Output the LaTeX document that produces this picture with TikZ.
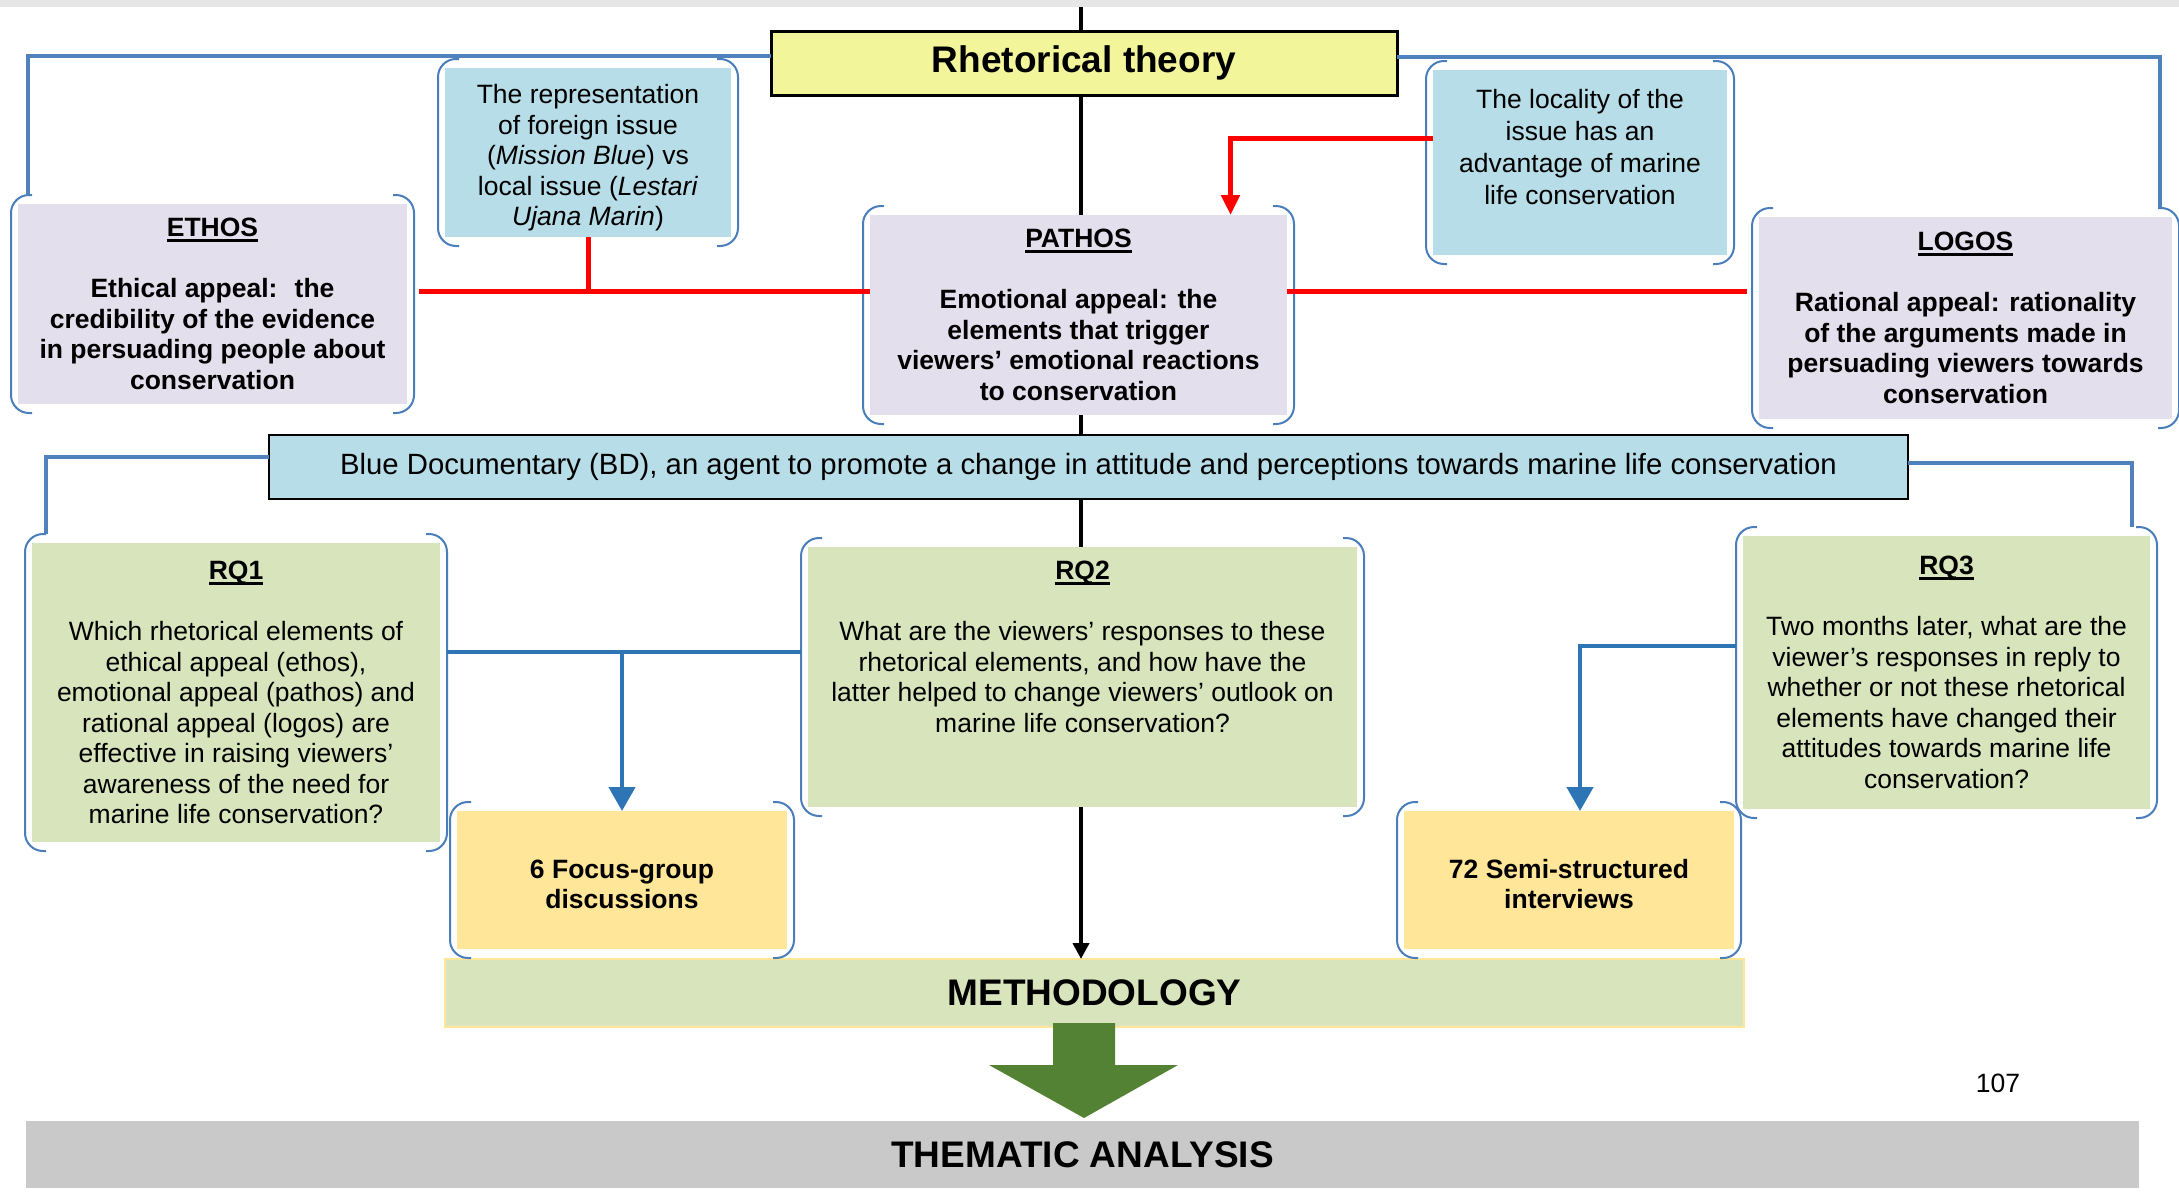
\documentclass[tikz,border=0pt]{standalone}
\usepackage{fontspec}
\setmainfont{Liberation Sans}
\usetikzlibrary{arrows.meta}
\definecolor{rhetyellow}{HTML}{F3F59B}
\definecolor{paleblue}{HTML}{B7DDE8}
\definecolor{lavender}{HTML}{E4DFEC}
\definecolor{sage}{HTML}{D8E4BC}
\definecolor{sand}{HTML}{FFE699}
\definecolor{linkblue}{HTML}{4F81BD}
\definecolor{arrowblue}{HTML}{2E75B6}
\definecolor{brkblue}{HTML}{4A7EBB}
\definecolor{leafgreen}{HTML}{548235}
\definecolor{bargray}{HTML}{C9C9C9}
\definecolor{bandgray}{HTML}{E6E6E6}
\newcommand{\boxhead}[1]{\setbox0\hbox{\bfseries #1}\rlap{\rule[-5pt]{\wd0}{2.5pt}}\box0}
\tikzset{
  box/.style={inner sep=0pt, outer sep=0pt, align=center, font=\fontsize{26.5}{30.5}\selectfont},
  titlebox/.style={box, font=\fontsize{37}{42}\selectfont\bfseries},
  appeal/.style={box, fill=lavender, font=\fontsize{26.5}{30.5}\selectfont\bfseries},
  note/.style={box, fill=paleblue},
  question/.style={box, fill=sage},
  method/.style={box, fill=sand, font=\fontsize{26.5}{30.5}\selectfont\bfseries},
  brk/.style={draw=brkblue, line width=2pt, rounded corners=18pt},
  spine/.style={draw=black, line width=4pt},
  linkline/.style={draw=linkblue, line width=3.5pt},
  arrowline/.style={draw=arrowblue, line width=4.5pt},
  redline/.style={draw=red, line width=5pt}
}
\begin{document}
\begin{tikzpicture}[x=1pt,y=-1pt]
\useasboundingbox (0,0) rectangle (2179,1192);
\fill[bandgray] (0,0) rectangle (2179,7);

\node[titlebox, fill=rhetyellow, draw=black, line width=3pt, minimum width=626pt, minimum height=64pt] (rhet) at (1084,63) {Rhetorical theory};
\node[appeal, minimum width=389pt, minimum height=200pt] (ethos) at (212.5,304) {\boxhead{ETHOS}\\[30.5pt]Ethical appeal: \ the\\credibility of the evidence\\in persuading people about\\conservation};
\node[note, minimum width=286pt, minimum height=169pt] (repr) at (588,152.5) {\rule{0pt}{30pt}The representation\\of foreign issue\\(\textit{Mission Blue}) vs\\local issue (\textit{Lestari}\\\textit{Ujana Marin})};
\node[appeal, minimum width=417pt, minimum height=200pt] (pathos) at (1078.5,315) {\boxhead{PATHOS}\\[30.5pt]Emotional appeal: the\\elements that trigger\\viewers’ emotional reactions\\to conservation};
\node[note, minimum width=294pt, minimum height=185pt, font=\fontsize{26.5}{32}\selectfont] (local) at (1580,162.5) {The locality of the\\issue has an\\advantage of marine\\life conservation\\\mbox{}};
\node[appeal, minimum width=413pt, minimum height=202pt] (logos) at (1965.5,318) {\boxhead{LOGOS}\\[30.5pt]Rational appeal: rationality\\of the arguments made in\\persuading viewers towards\\conservation};
\node[note, draw=black, line width=2.5pt, minimum width=1639pt, minimum height=64pt, font=\fontsize{29.3}{33}\selectfont] (bd) at (1088.5,467) {Blue Documentary (BD), an agent to promote a change in attitude and perceptions towards marine life conservation};
\node[question, minimum width=408pt, minimum height=299pt] (rq1) at (236,692.5) {\boxhead{RQ1}\\[30.5pt]Which rhetorical elements of\\ethical appeal (ethos),\\emotional appeal (pathos) and\\rational appeal (logos) are\\effective in raising viewers’\\awareness of the need for\\marine life conservation?};
\node[question, minimum width=549pt, minimum height=260pt] (rq2) at (1082.5,677) {\boxhead{RQ2}\\[30.5pt]What are the viewers’ responses to these\\rhetorical elements, and how have the\\latter helped to change viewers’ outlook on\\marine life conservation?\\[30.5pt]\mbox{}};
\node[question, minimum width=407pt, minimum height=273pt] (rq3) at (1946.5,672.5) {\boxhead{RQ3}\\[30.5pt]Two months later, what are the\\viewer’s responses in reply to\\whether or not these rhetorical\\elements have changed their\\attitudes towards marine life\\conservation?};
\node[method, minimum width=330pt, minimum height=138pt] (focus) at (622,880) {\rule{0pt}{27.5pt}6 Focus-group\\discussions};
\node[method, minimum width=330pt, minimum height=138pt] (semi) at (1569,880) {\rule{0pt}{27.5pt}72 Semi-structured\\interviews};
\node[titlebox, fill=sage, draw=sand, line width=2pt, minimum width=1299pt, minimum height=68pt] (meth) at (1094.5,993) {METHODOLOGY};
\node[titlebox, fill=bargray, minimum width=2113pt, minimum height=67pt] (theme) at (1082.5,1154.5) {THEMATIC ANALYSIS};
\node[box] (page) at (1998,1083) {107};

\foreach \n in {ethos,repr,pathos,local,logos,rq1,rq2,rq3,focus,semi} {
  \draw[brk] ([xshift=14pt,yshift=9pt]\n.north west) -- ([xshift=-7pt,yshift=9pt]\n.north west) -- ([xshift=-7pt,yshift=-9pt]\n.south west) -- ([xshift=14pt,yshift=-9pt]\n.south west);
  \draw[brk] ([xshift=-14pt,yshift=9pt]\n.north east) -- ([xshift=7pt,yshift=9pt]\n.north east) -- ([xshift=7pt,yshift=-9pt]\n.south east) -- ([xshift=-14pt,yshift=-9pt]\n.south east);
}

\coordinate (spine) at (1081,7);
\draw[spine] (spine) -- (spine |- rhet.north);
\foreach \from / \to in {rhet.south/pathos.north,pathos.south/bd.north,bd.south/rq2.north}
  \draw[spine] (spine |- \from) -- (spine |- \to);
\draw[spine, -{Triangle[width=16pt,length=16pt]}] (spine |- rq2.south) -- (spine |- meth.north);

\draw[linkline] ([yshift=7pt]rhet.west) -| ([xshift=10pt,yshift=9pt]ethos.north west);
\draw[linkline] ([yshift=6pt]rhet.east) -| ([xshift=-12pt,yshift=9pt]logos.north east);
\draw[linkline] ([yshift=10pt]bd.west) -| ([xshift=14pt,yshift=9pt]rq1.north west);
\draw[linkline] ([yshift=4pt]bd.east) -| ([xshift=-18pt,yshift=9pt]rq3.north east);

\coordinate (redlevel) at (0,291);
\draw[redline] ([xshift=12pt]ethos.east |- redlevel) -- (pathos.west |- redlevel);
\draw[redline] (repr.south) -- (repr.south |- redlevel);
\draw[redline] (pathos.east |- redlevel) -- ([xshift=-12pt]logos.west |- redlevel);
\draw[redline, -{Triangle[width=18pt,length=20pt]}] ([yshift=24pt]local.west) -| ([xshift=152pt]pathos.north);

\coordinate (fork) at (0,652);
\coordinate (rqthreefork) at (0,646);
\draw[arrowline] ([xshift=7pt]rq1.east |- fork) -- ([xshift=-7pt]rq2.west |- fork);
\draw[arrowline, -{Triangle[width=26pt,length=24pt]}] (focus.north |- fork) -- (focus.north);
\draw[arrowline, -{Triangle[width=26pt,length=24pt]}] ([xshift=-7pt]rq3.west |- rqthreefork) -| ([xshift=11pt]semi.north);

\fill[leafgreen] (1053,1023) -- (1115,1023) -- (1115,1065) -- (1178,1065) -- (1084,1118) -- (989,1065) -- (1053,1065) -- cycle;
\end{tikzpicture}
\end{document}
